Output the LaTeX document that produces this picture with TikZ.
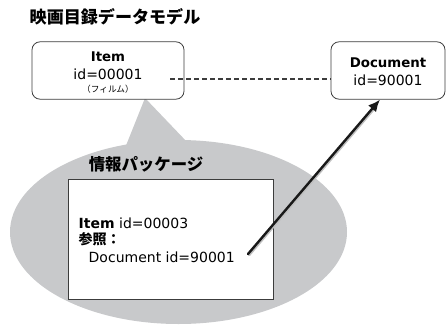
\documentclass[tikz,border=0pt]{standalone}
\usepackage{fontspec}
\setmainfont{DejaVu Sans}
\newfontfamily\jpfont{Noto Sans CJK JP}
\usetikzlibrary{arrows.meta, shapes.geometric, calc}
\definecolor{bubblegray}{RGB}{200,201,203}
\definecolor{linegray}{RGB}{60,60,60}
\newcommand{\refArrow}{{Latex[length=9, width=8]}}

\begin{document}
\begin{tikzpicture}[x=0.75pt, y=-0.75pt, font=\fontsize{10.5pt}{12.5pt}\selectfont]
	\tikzset{
		modelbox/.style={draw=linegray, fill=white, rounded corners=6pt, align=center, line width=0.6pt},
		packbox/.style={draw=linegray, fill=white, line width=0.6pt},
	}
	\useasboundingbox (0,0) rectangle (446,325);

	% speech bubble
	\coordinate (tip) at (145,98);
	\fill[bubblegray]	(178.5,232) ellipse [x radius=168.5, y radius=92];
	\fill[bubblegray]	(125,148) -- (tip) -- (188,143) -- cycle;

	\node[anchor=west, font=\jpfont\bfseries\fontsize{12.8pt}{14pt}\selectfont] (title) at (25,17) {映画目録データモデル};

	\node[modelbox, minimum width=114, minimum height=43] (item) at (108,70.5) {};
		\node[font=\bfseries\fontsize{10pt}{12pt}\selectfont] (itemname) at (108,57) {Item};
		\node (itemid) at (108,74) {id=00001};
		\node[font=\jpfont\fontsize{6.5pt}{8pt}\selectfont] (itemnote) at (108,89) {（フィルム）};
	\node[modelbox, minimum width=85.5, minimum height=43] (doc) at (388,70.5) {};
		\node[font=\bfseries\fontsize{10pt}{12pt}\selectfont] (docname) at (388,63) {Document};
		\node (docid) at (388,80) {id=90001};

	\coordinate (dashstart) at (170,79);
	\draw[linegray, line width=1.1pt, dash pattern=on 4pt off 2pt] (dashstart) -- (dashstart -| doc.west);

	\node[font=\jpfont\bfseries\fontsize{12.3pt}{14pt}\selectfont] (pack) at (146,164) {情報パッケージ};
	\node[packbox, minimum width=153.75, minimum height=90] (packbox) at (170.5,239) {};
		\node[anchor=west] (packitem) at (74,223) {\textbf{Item} id=00003};
		\node[anchor=west, font=\jpfont\bfseries\fontsize{10.5pt}{12.5pt}\selectfont] (packref) at (74,239) {参照：};
		\node[anchor=west] (packdoc) at (84,257) {Document id=90001};

	% reference arrow with a soft shadow
	\coordinate (refstart) at (248,254);
	\coordinate (refend) at ($(doc.south)+(-8,0)$);
	\draw[black!25, line width=2pt, line cap=round] ($(refstart)+(1,1)$) -- ($(refend)!0.06!(refstart)+(1,1)$);
	\draw[black!90, line width=1.8pt, line cap=round, -\refArrow] (refstart) -- (refend);
\end{tikzpicture}
\end{document}
